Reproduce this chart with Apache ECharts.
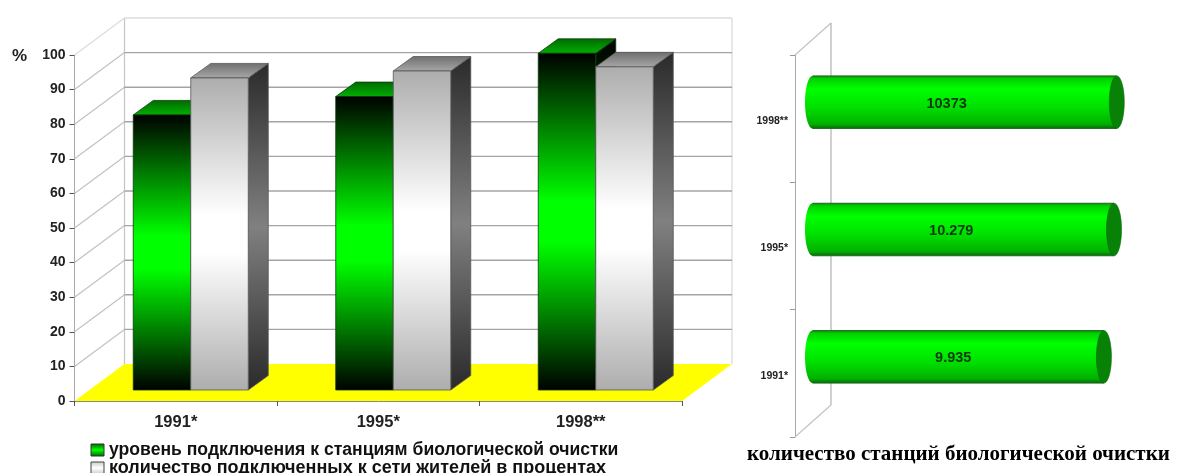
<!DOCTYPE html>
<html><head><meta charset="utf-8">
<style>html,body{margin:0;padding:0;background:#fff}#c{width:1177px;height:473px;filter:blur(0.4px)}</style>
<script src="https://cdn.jsdelivr.net/npm/echarts@6/dist/echarts.min.js"></script>
</head><body><div id="c"></div>
<script>
// ---- data ----
const years = ['1991*', '1995*', '1998**'];
const percentTicks = [0, 10, 20, 30, 40, 50, 60, 70, 80, 90, 100];
const connectionLevel = [79.5, 84.8, 97.3];
const connectedResidents = [90.2, 92.2, 93.4];
const stationCounts = [9935, 10279, 10373];
const stationLabels = ['9.935', '10.279', '10373'];
const legendGreen = 'уровень подключения к станциям биологической очистки';
const legendGray = 'количество подключенных к сети жителей в процентах';
const rightTitle = 'количество станций биологической очистки';

// ---- styling helpers ----
const vgrad = (stops) => ({type:'linear',x:0,y:0,x2:0,y2:1,
  colorStops:stops.map(s=>({offset:s[0],color:s[1]}))});
const WALL = {dx:50, dy:37}, BAR = {dx:15, dy:11}, SIDE = {dx:20, dy:14.5};
const BAR_BAND = 0.284;
const styles = {
  green:{front:vgrad([[0,'#000000'],[0.44,'#00ff00'],[0.56,'#00ff00'],[1,'#000000']]),
         side:vgrad([[0,'#000000'],[0.5,'#008000'],[1,'#000000']]),
         top:vgrad([[0,'#006a00'],[1,'#00b000']]), edge:'#0d3a0d'},
  gray:{front:vgrad([[0,'#adadad'],[0.44,'#ffffff'],[0.56,'#ffffff'],[1,'#adadad']]),
        side:vgrad([[0,'#2a2a2a'],[0.5,'#808080'],[1,'#2a2a2a']]),
        top:vgrad([[0,'#6e6e6e'],[1,'#a8a8a8']]), edge:'#555555'}
};
const poly = (pts, fill, stroke, lw) => ({type:'polygon', shape:{points:pts},
  style:{fill:fill, stroke:stroke||null, lineWidth:lw||0}});
const seg = (x1,y1,x2,y2,c,w) => ({type:'line', shape:{x1,y1,x2,y2},
  style:{stroke:c, lineWidth:w||1.2, fill:null}});

function renderBox(slot, st){
  return function(params, api){
    const w = api.size([1,0])[0]*BAR_BAND;
    const top = api.coord([api.value(0), api.value(1)]);
    const base = api.coord([api.value(0), 0]);
    const x0 = top[0] + BAR.dx + slot*w, x1 = x0 + w;
    const yt = top[1] - BAR.dy, yb = base[1] - BAR.dy;
    return {type:'group', children:[
      poly([[x1,yt],[x1+SIDE.dx,yt-SIDE.dy],[x1+SIDE.dx,yb-SIDE.dy],[x1,yb]], st.side, st.edge, 0.8),
      poly([[x0,yt],[x1,yt],[x1+SIDE.dx,yt-SIDE.dy],[x0+SIDE.dx,yt-SIDE.dy]], st.top, st.edge, 0.8),
      {type:'rect', shape:{x:x0,y:yt,width:w,height:yb-yt}, style:{fill:st.front, stroke:st.edge, lineWidth:0.8}}
    ]};
  };
}
function renderWalls(params, api){
  const v = api.value(0), cs = params.coordSys;
  const y = api.coord([0, v])[1];
  const xl = cs.x, xr = cs.x + cs.width, bl = xl + WALL.dx, br = xr + WALL.dx;
  const kids = [];
  if (v === 0) {
    kids.push(poly([[xl,y],[bl,y-WALL.dy],[br,y-WALL.dy],[xr,y]], '#ffff00'));
    const yTop = api.coord([0,100])[1]-WALL.dy;
    kids.push(seg(bl,yTop,bl,y-WALL.dy,'#c4c4c4'), seg(br,yTop,br,y-WALL.dy,'#d8d8d8'));
  } else {
    kids.push(seg(xl,y,bl,y-WALL.dy, v===100?'#dcdcdc':'#c2c2c2'));
    kids.push(seg(bl,y-WALL.dy,br,y-WALL.dy, v===100?'#dcdcdc':'#a4a4a4', 1.4));
  }
  return {type:'group', children:kids};
}
const CYL = {dx:17.5, dy:16.5, h:52.5, rx:7.5};
const labelNudge = [-5,-12,-18];
function renderCylinder(params, api){
  const end = api.coord([api.value(0), api.value(1)]);
  const start = api.coord([0, api.value(1)]);
  const x0 = start[0]+CYL.dx, x1 = end[0]+CYL.dx, cy = end[1]-CYL.dy, ry = CYL.h/2;
  const body = vgrad([[0,'#0c8a0c'],[0.05,'#00d000'],[0.25,'#00ff00'],[0.6,'#00e000'],[0.92,'#00b000'],[1,'#0a6a0a']]);
  return {type:'group', children:[
    {type:'ellipse', shape:{cx:x0,cy:cy,rx:CYL.rx,ry:ry}, style:{fill:body}},
    {type:'rect', shape:{x:x0,y:cy-ry,width:x1-x0,height:CYL.h}, style:{fill:body}},
    seg(x0,cy-ry,x1,cy-ry,'#1f6a1f',1), seg(x0,cy+ry,x1,cy+ry,'#1f6a1f',1),
    {type:'ellipse', shape:{cx:x1,cy:cy,rx:CYL.rx,ry:ry}, style:{fill:'#078207', stroke:'#0a6a0a', lineWidth:0.6}},
    {type:'text', style:{text:stationLabels[params.dataIndex],
      x:(x0+x1)/2+labelNudge[params.dataIndex], y:cy+1.5, align:'center', verticalAlign:'middle',
      font:'bold 14.5px "Liberation Sans"', fill:'#0c3a0c'}}
  ]};
}

const chart = echarts.init(document.getElementById('c'), null, {renderer:'canvas'});
chart.setOption({
  animation:false,
  backgroundColor:'#ffffff',
  title:{text:rightTitle, left:747, top:444, padding:0, textStyle:{fontFamily:'"Liberation Serif"',fontWeight:'bold',fontSize:21,color:'#000'}},
  graphic:[{type:'text', left:12, top:48, style:{text:'%', font:'bold 17px "Liberation Sans"', fill:'#222'}}],
  legend:{orient:'vertical', left:90.5, top:441, height:60, itemWidth:13, itemHeight:12, itemGap:0, padding:0,
    textStyle:{fontFamily:'"Liberation Sans"',fontWeight:'bold',fontSize:17.6,color:'#111',lineHeight:16},
    selectedMode:false,
    data:[
      {name:legendGreen, icon:'rect', itemStyle:{color:vgrad([[0,'#006000'],[0.5,'#00ff00'],[1,'#006000']]),borderColor:'#333',borderWidth:1}},
      {name:legendGray, icon:'rect', textStyle:{fontSize:18}, itemStyle:{color:vgrad([[0,'#c8c8c8'],[0.5,'#ffffff'],[1,'#c8c8c8']]),borderColor:'#444',borderWidth:1}}
    ]},
  grid:[
    {left:74.5, top:55, width:607.5, height:346},
    {left:795, top:55, width:352, height:382}
  ],
  xAxis:[
    {gridIndex:0, type:'category', data:years, boundaryGap:true,
      axisLine:{show:true,lineStyle:{color:'#8a8a8a',width:1}},
      axisTick:{show:true,length:5,lineStyle:{color:'#555'}},
      axisLabel:{margin:13,fontFamily:'"Liberation Sans"',fontWeight:'bold',fontSize:16.5,color:'#222'}},
    {gridIndex:1, type:'value', min:0, max:12000, show:false}
  ],
  yAxis:[
    {gridIndex:0, type:'value', min:0, max:100, interval:10,
      axisLine:{show:true,lineStyle:{color:'#a8a8a8',width:1}},
      axisTick:{show:true,length:5,lineStyle:{color:'#555'}},
      splitLine:{show:false},
      axisLabel:{margin:9,fontFamily:'"Liberation Sans"',fontWeight:'bold',fontSize:14,color:'#222'}},
    {gridIndex:1, type:'category', data:years,
      axisLine:{show:true,lineStyle:{color:'#a8a8a8',width:1}},
      axisTick:{show:true,length:5,lineStyle:{color:'#999'}},
      axisLabel:{margin:7,formatter:'{a|{value}}',
        rich:{a:{padding:[5,0,0,0],fontFamily:'"Liberation Sans"',fontWeight:'bold',fontSize:10.5,color:'#222'}}}}
  ],
  series:[
    {type:'custom', name:'walls', xAxisIndex:0, yAxisIndex:0, silent:true, clip:false,
      data:percentTicks.map(v=>[v]), encode:{y:0}, renderItem:renderWalls, z:1},
    {type:'custom', name:legendGreen, xAxisIndex:0, yAxisIndex:0, clip:false,
      data:connectionLevel.map((v,i)=>[i,v]), encode:{x:0,y:1}, renderItem:renderBox(-1,styles.green), z:2,
      itemStyle:{color:'#00c000'}},
    {type:'custom', name:legendGray, xAxisIndex:0, yAxisIndex:0, clip:false,
      data:connectedResidents.map((v,i)=>[i,v]), encode:{x:0,y:1}, renderItem:renderBox(0,styles.gray), z:3,
      itemStyle:{color:'#ddd'}},
    {type:'custom', name:'rightWall', xAxisIndex:1, yAxisIndex:1, silent:true, clip:false,
      data:[[0,0]], encode:{x:0,y:1}, z:1,
      renderItem:function(params){
        const c = params.coordSys, d = {dx:36, dy:32};
        const xb = c.x+d.dx, yt = c.y, yb = c.y+c.height;
        return {type:'group', children:[
          seg(c.x,yt,xb,yt-d.dy,'#c2c2c2'), seg(c.x,yb,xb,yb-d.dy,'#c2c2c2'),
          seg(xb,yt-d.dy,xb,yb-d.dy,'#b0b0b0')
        ]};
      }},
    {type:'custom', name:'stations', xAxisIndex:1, yAxisIndex:1, clip:false,
      data:stationCounts.map((v,i)=>[v,i]), encode:{x:0,y:1}, renderItem:renderCylinder, z:3}
  ]
});
</script></body></html>
